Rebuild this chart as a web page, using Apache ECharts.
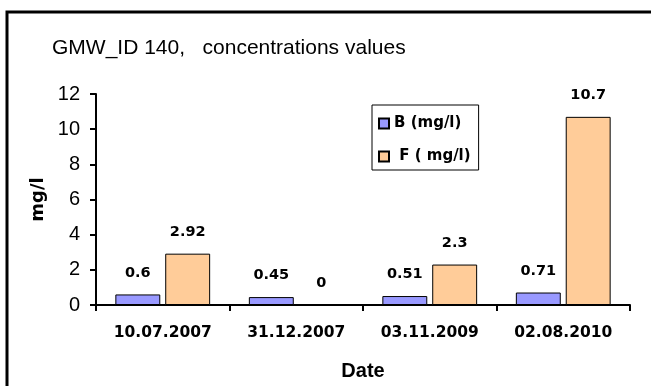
<!DOCTYPE html>
<html><head><meta charset="utf-8">
<script src="https://cdn.jsdelivr.net/npm/echarts@6/dist/echarts.min.js"></script>
<style>html,body{margin:0;padding:0;background:#fff}#c{width:651px;height:386px}</style>
</head><body><div id="c"></div>
<script>
const categories = ['10.07.2007','31.12.2007','03.11.2009','02.08.2010'];
const seriesB = [0.6, 0.45, 0.51, 0.71];
const seriesF = [2.92, 0, 2.3, 10.7];
const yTicks = [0, 2, 4, 6, 8, 10, 12];
const legendNames = ['B (mg/l)', ' F ( mg/l)'];

const chart = echarts.init(document.getElementById('c'), null, {renderer:'canvas'});
const lbl = {show:true, position:'top', distance:14, color:'#000', fontWeight:'bold', fontSize:14.5, fontFamily:'DejaVu Sans, Arial'};
chart.setOption({
  animation:false,
  backgroundColor:'#fff',
  title:{text:'GMW_ID 140,   concentrations values', left:47, top:33,
    textStyle:{fontFamily:'Liberation Sans, Arial', fontSize:21, fontWeight:'normal', color:'#000'}},
  graphic:[{type:'rect', shape:{x:7, y:12, width:700, height:420}, style:{fill:null, stroke:'#000', lineWidth:3}, silent:true}],
  legend:{
    data:legendNames, orient:'vertical', left:372, top:105,
    padding:[10,8,5,6], itemGap:16, itemWidth:10, itemHeight:10,
    borderColor:'#000', borderWidth:1, backgroundColor:'#fff',
    textStyle:{fontFamily:'DejaVu Sans, Arial', fontWeight:'bold', fontSize:15, color:'#000', lineHeight:17},
    icon:'rect'
  },
  grid:{left:96, right:21, top:94, bottom:81, containLabel:false},
  xAxis:{type:'category', data:categories,
    name:'Date', nameLocation:'middle', nameGap:56,
    nameTextStyle:{fontFamily:'Liberation Sans, Arial', fontWeight:'bold', fontSize:20, color:'#000'},
    axisLine:{lineStyle:{color:'#000', width:2}},
    axisTick:{show:true, length:6, lineStyle:{color:'#000', width:2}},
    axisLabel:{margin:20, color:'#000', fontWeight:'bold', fontSize:15.5, fontFamily:'DejaVu Sans, Arial'}
  },
  yAxis:{type:'value', min:0, max:12, interval:2,
    name:'mg/l', nameLocation:'middle', nameGap:48, nameRotate:90,
    nameTextStyle:{fontFamily:'DejaVu Sans, Arial', fontWeight:'bold', fontSize:18, color:'#000'},
    axisLine:{show:true, lineStyle:{color:'#000', width:2}},
    axisTick:{show:true, length:6, lineStyle:{color:'#000', width:2}},
    splitLine:{show:false},
    axisLabel:{margin:16, color:'#000', fontSize:20, fontFamily:'Liberation Sans, Arial',
      formatter:v=> yTicks.includes(v) ? String(v) : ''}
  },
  series:[
    {name:legendNames[0], type:'bar', data:seriesB, barGap:'11%', barCategoryGap:'29%',
     itemStyle:{color:'#9999FF', borderColor:'#000', borderWidth:1}, label:lbl},
    {name:legendNames[1], type:'bar', data:seriesF,
     itemStyle:{color:'#FFCC99', borderColor:'#000', borderWidth:1}, label:lbl}
  ]
});
</script></body></html>
